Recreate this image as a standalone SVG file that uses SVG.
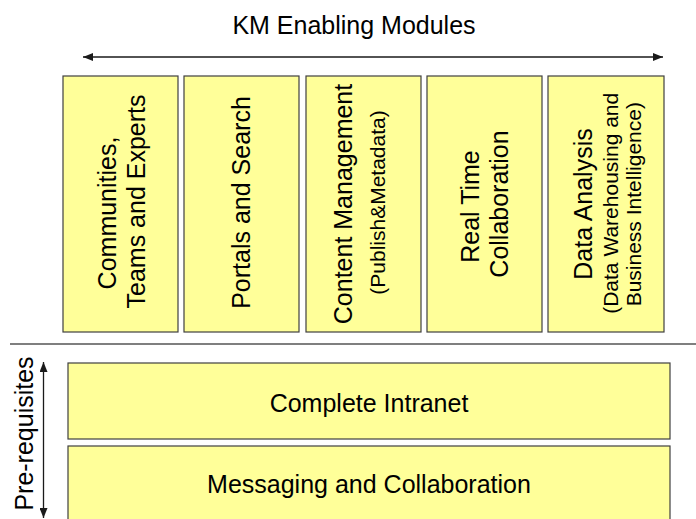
<svg xmlns="http://www.w3.org/2000/svg" width="696" height="519" viewBox="0 0 696 519">
  <style>
    .box { fill: #FFFF99; stroke: #404040; stroke-width: 1.2; }
    .lbl { font-family: "Liberation Sans", Arial, sans-serif; fill: #000; text-anchor: middle; }
    .big { font-size: 25px; }
    .small { font-size: 21px; }
    .conn { stroke: #1a1a1a; stroke-width: 1.3; fill: none; }
    .rule { stroke: #555; stroke-width: 1.5; }
  </style>
  <defs>
    <marker id="head" viewBox="0 0 10 8" refX="10" refY="4" markerWidth="10" markerHeight="8" markerUnits="userSpaceOnUse" orient="auto-start-reverse">
      <path d="M0,0 L10,4 L0,8 z" fill="#1a1a1a"/>
    </marker>
  </defs>

  <!-- heading -->
  <text class="lbl big" x="354" y="34">KM Enabling Modules</text>

  <!-- connectors: span arrows and divider -->
  <g id="connectors">
    <line class="conn" x1="83" y1="57" x2="663" y2="57" marker-start="url(#head)" marker-end="url(#head)"/>
    <line class="conn" x1="43.5" y1="362" x2="43.5" y2="518" marker-start="url(#head)" marker-end="url(#head)"/>
    <line class="rule" x1="10" y1="344" x2="696" y2="344"/>
  </g>

  <!-- enabling modules -->
  <g id="communities">
    <rect class="box" x="63" y="76" width="115" height="256"/>
    <text class="lbl big" transform="translate(115.5,213) rotate(-90)">Communities,</text>
    <text class="lbl big" transform="translate(144.5,201.5) rotate(-90)">Teams and Experts</text>
  </g>
  <g id="portals">
    <rect class="box" x="184" y="76" width="115" height="256"/>
    <text class="lbl big" transform="translate(249.5,202.5) rotate(-90)">Portals and Search</text>
  </g>
  <g id="content">
    <rect class="box" x="306" y="76" width="115" height="256"/>
    <text class="lbl big" transform="translate(352,204) rotate(-90)">Content Management</text>
    <text class="lbl small" transform="translate(385,202.5) rotate(-90)">(Publish&amp;Metadata)</text>
  </g>
  <g id="realtime">
    <rect class="box" x="427" y="76" width="115" height="256"/>
    <text class="lbl big" transform="translate(478.5,206.5) rotate(-90)">Real Time</text>
    <text class="lbl big" transform="translate(508,204) rotate(-90)">Collaboration</text>
  </g>
  <g id="dataanalysis">
    <rect class="box" x="548" y="76" width="116" height="256"/>
    <text class="lbl big" transform="translate(592,204) rotate(-90)">Data Analysis</text>
    <text class="lbl small" transform="translate(618,203.3) rotate(-90)">(Data Warehousing and</text>
    <text class="lbl small" transform="translate(641,204.2) rotate(-90)">Business Intelligence)</text>
  </g>

  <!-- pre-requisites -->
  <text class="lbl big" transform="translate(32.5,433.5) rotate(-90)">Pre-requisites</text>
  <g id="intranet">
    <rect class="box" x="68" y="363" width="602" height="76"/>
    <text class="lbl big" x="369" y="411.5">Complete Intranet</text>
  </g>
  <g id="messaging">
    <rect class="box" x="68" y="446" width="602" height="80"/>
    <text class="lbl big" x="369" y="493">Messaging and Collaboration</text>
  </g>
</svg>
